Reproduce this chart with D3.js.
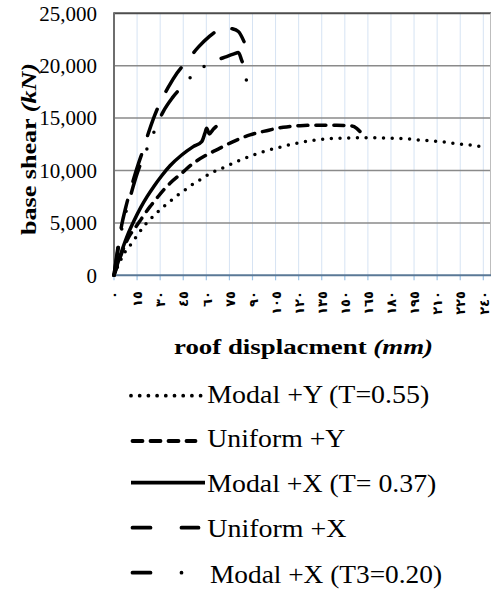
<!DOCTYPE html>
<html>
<head>
<meta charset="utf-8">
<script src="https://cdn.jsdelivr.net/npm/d3@7"></script>
<style>
  html, body { margin: 0; padding: 0; background: #fff; }
  svg { display: block; }
  .serif { font-family: "Liberation Serif", "Times New Roman", serif; fill: #000; }
</style>
</head>
<body>
<svg id="chart" width="492" height="590"></svg>
<script>
// Roof displacement ticks (mm) and their Arabic-Indic labels
const xTicks = [0, 15, 30, 45, 60, 75, 90, 105, 120, 135, 150, 165, 180, 195, 210, 225, 240];
const xTickLabels = ["٠","١٥","٣٠","٤٥","٦٠","٧٥","٩٠","١٠٥","١٢٠","١٣٥","١٥٠","١٦٥","١٨٠","١٩٥","٢١٠","٢٢٥","٢٤٠"];
// Base shear ticks (kN)
const yTicks = [0, 5000, 10000, 15000, 20000, 25000];

// Pushover curves: [roof displacement mm, base shear kN]
const modalY = [[0,0],[2,700],[4,1350],[7,2200],[11.5,3050],[14.8,3750],[20.1,4800],[25.6,5650],[31,6400],[35.3,6930],[40.7,7570],[46.1,8140],[50.5,8620],[55.9,9100],[63,9750],[71,10270],[81.9,10980],[93.8,11650],[105.3,12130],[116.5,12540],[128.5,12850],[140.4,13040],[152.3,13100],[164.2,13120],[176.1,13100],[188,13050],[199.9,12890],[211.8,12760],[223.7,12540],[235.7,12350],[242.2,12190]];
const uniformY = [[0,0],[2,850],[4,1700],[7,2850],[10,3750],[13.6,4500],[16.7,5150],[19,5650],[23.4,6550],[27.8,7350],[32,8100],[36.4,8780],[44,9740],[51.5,10690],[60.2,11490],[68.9,12130],[77.5,12760],[88.4,13400],[99.2,13800],[110,14130],[120.9,14280],[131.7,14320],[144.7,14320],[154.5,14250],[157.7,14030],[159.9,13710]];
const modalX = [[0,0],[2,950],[5,2300],[9,3900],[13,5200],[17.5,6500],[21.5,7500],[26,8500],[31,9500],[36.4,10450],[44,11480],[51.5,12280],[57,12760],[59.1,13560],[60.2,14030],[61.9,13490],[64.5,13940],[66.3,14190]];
const uniformX = [[0,0],[1.5,1600],[3,3100],[5,4800],[7.5,6400],[10,7800],[13,9300],[16,10700],[19,12000],[22.2,13500],[25.5,14900],[29.9,16450],[35.3,17950],[41,19300],[47.6,20490],[54.8,21770],[62,22800],[67,23350],[71,23680],[76,23560],[80.8,23260],[84.5,22300]];
const modalXT3 = [[0,0],[1.5,1400],[3,2800],[5,4400],[7.5,5900],[10.2,7300],[12.3,8400],[15,9700],[17.7,10800],[20,11600],[22.7,12500],[27.3,14130],[32,15620],[38,16950],[44.6,18070],[52.6,19290],[62.4,20240],[73.2,20870],[78,21120],[80.8,21250],[83,20500],[85.1,19600],[86.6,17910]];

const seriesNames = ["Modal +Y (T=0.55)", "Uniform +Y", "Modal +X (T= 0.37)", "Uniform +X", "Modal +X (T3=0.20)"];

const svg = d3.select("#chart");
const plot = { left: 114, right: 491, top: 13.3, bottom: 275.3 };

const x = d3.scaleLinear().domain([0, 245]).range([plot.left, plot.right]);
const y = d3.scaleLinear().domain([0, 25000]).range([plot.bottom, plot.top]);

// vertical gridlines
svg.append("g").selectAll("line").data(xTicks.slice(1)).join("line")
  .attr("x1", d => x(d)).attr("x2", d => x(d))
  .attr("y1", plot.top).attr("y2", plot.bottom)
  .attr("stroke", "#d6e3f3").attr("stroke-width", 1);

// horizontal gridlines
svg.append("g").selectAll("line").data(yTicks.slice(1, -1)).join("line")
  .attr("x1", plot.left).attr("x2", plot.right)
  .attr("y1", d => y(d)).attr("y2", d => y(d))
  .attr("stroke", "#8a8a8a").attr("stroke-width", 1.5);

// plot frame
svg.append("line").attr("x1", plot.left).attr("x2", plot.right)
  .attr("y1", y(25000)).attr("y2", y(25000))
  .attr("stroke", "#4d4d4d").attr("stroke-width", 2);
svg.append("line").attr("x1", plot.right - 0.5).attr("x2", plot.right - 0.5)
  .attr("y1", plot.top).attr("y2", plot.bottom)
  .attr("stroke", "#bdbdbd").attr("stroke-width", 1);
svg.append("line").attr("x1", plot.left).attr("x2", plot.left)
  .attr("y1", plot.top - 1).attr("y2", plot.bottom)
  .attr("stroke", "#6e6e6e").attr("stroke-width", 2);

// x axis with light tick marks
svg.append("g").selectAll("line").data(xTicks).join("line")
  .attr("x1", d => x(d)).attr("x2", d => x(d))
  .attr("y1", plot.bottom).attr("y2", plot.bottom + 5)
  .attr("stroke", "#9dc3e6").attr("stroke-width", 1.2);
svg.append("line").attr("x1", plot.left).attr("x2", plot.right)
  .attr("y1", plot.bottom).attr("y2", plot.bottom)
  .attr("stroke", "#5a7896").attr("stroke-width", 2);

// y tick labels
svg.append("g").selectAll("text").data(yTicks).join("text")
  .attr("class", "serif")
  .attr("x", 97).attr("y", d => y(d)).attr("dy", "0.35em")
  .attr("text-anchor", "end").attr("font-size", 21)
  .text(d3.format(","));

// x tick labels, rotated
svg.append("g").selectAll("text").data(xTicks).join("text")
  .attr("transform", d => `translate(${x(d)},291) rotate(-90)`)
  .attr("text-anchor", "end").attr("dy", "0.4em")
  .attr("font-family", "'DejaVu Sans', sans-serif").attr("font-size", 13)
  .attr("font-weight", "bold")
  .attr("fill", "#000")
  .text((d, i) => xTickLabels[i]);

// axis titles
const xt = svg.append("text").attr("class", "serif")
  .attr("x", 303.5).attr("y", 354).attr("text-anchor", "middle")
  .attr("font-size", 21).attr("font-weight", "bold");
xt.append("tspan").text("roof displacment  ");
xt.append("tspan").attr("font-style", "italic").text("(mm)");
xt.attr("textLength", 259).attr("lengthAdjust", "spacingAndGlyphs");

const yt = svg.append("text").attr("class", "serif")
  .attr("transform", "translate(36,149) rotate(-90)").attr("text-anchor", "middle")
  .attr("font-size", 21).attr("font-weight", "bold");
yt.append("tspan").text("base shear  ");
yt.append("tspan").attr("font-style", "italic").text("(kN)");
yt.attr("textLength", 172).attr("lengthAdjust", "spacingAndGlyphs");

// curves
const line = d3.line().x(d => x(d[0])).y(d => y(d[1])).curve(d3.curveMonotoneX);
const styles = [
  { data: modalY,   dash: "0,8.7" },
  { data: uniformY, dash: "10,8" },
  { data: modalX,   dash: null },
  { data: uniformX, dash: "28,20" },
  { data: modalXT3, dash: "28,19,0,18,0,19" }
];
svg.append("g").selectAll("path").data(styles).join("path")
  .attr("d", d => line(d.data))
  .attr("fill", "none").attr("stroke", "#000").attr("stroke-width", 3.5)
  .attr("stroke-linecap", "round").attr("stroke-linejoin", "round")
  .attr("stroke-dasharray", d => d.dash);

// legend
const legendRows = [
  { cy: 395.7, x1: 131, x2: 201, dash: "0,8.7", tx: 207.3, by: 403.3, w: 222 },
  { cy: 441,   x1: 132.5, x2: 195.5, dash: "10,8", tx: 207.3, by: 446.7, w: 138 },
  { cy: 482.7, x1: 131, x2: 205, dash: null, tx: 207.3, by: 491.7, w: 229 },
  { cy: 527.7, x1: 132.5, x2: 198.5, dash: "18,31", tx: 207.3, by: 536.7, w: 139 },
  { cy: 572.7, x1: 132.5, x2: 182, dash: "18,31,0,100", tx: 210, by: 583.3, w: 232 }
];
const lg = svg.append("g");
lg.selectAll("line").data(legendRows).join("line")
  .attr("x1", d => d.x1).attr("x2", d => d.x2)
  .attr("y1", d => d.cy).attr("y2", d => d.cy)
  .attr("stroke", "#000").attr("stroke-width", 3.8)
  .attr("stroke-linecap", d => d.dash ? "round" : "butt")
  .attr("stroke-dasharray", d => d.dash);
lg.selectAll("text").data(legendRows).join("text")
  .attr("class", "serif")
  .attr("x", d => d.tx).attr("y", d => d.by)
  .attr("font-size", 25)
  .attr("textLength", d => d.w).attr("lengthAdjust", "spacingAndGlyphs")
  .text((d, i) => seriesNames[i]);
</script>
</body>
</html>
